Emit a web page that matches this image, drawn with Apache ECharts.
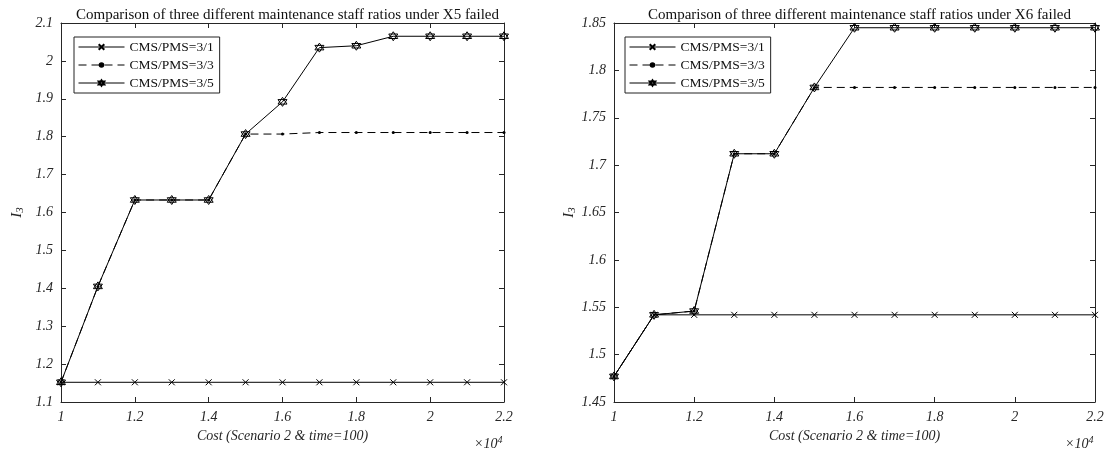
<!DOCTYPE html>
<html>
<head>
<meta charset="utf-8">
<script src="https://cdn.jsdelivr.net/npm/echarts@6/dist/echarts.min.js"></script>
<style>
  html, body { margin: 0; padding: 0; background: #fff; }
  #chart { width: 1107px; height: 454px; }
</style>
</head>
<body>
<div id="chart"></div>
<script>
// Cost values (×10^4)
const costs = [1.0, 1.1, 1.2, 1.3, 1.4, 1.5, 1.6, 1.7, 1.8, 1.9, 2.0, 2.1, 2.2];

const seriesNames = ['CMS/PMS=3/1', 'CMS/PMS=3/3', 'CMS/PMS=3/5'];

// I3 under X5 failed
const x5Ratio31 = [1.152, 1.152, 1.152, 1.152, 1.152, 1.152, 1.152, 1.152, 1.152, 1.152, 1.152, 1.152, 1.152];
const x5Ratio33 = [1.152, 1.405, 1.633, 1.633, 1.633, 1.807, 1.807, 1.811, 1.811, 1.811, 1.811, 1.811, 1.811];
const x5Ratio35 = [1.152, 1.405, 1.633, 1.633, 1.633, 1.807, 1.892, 2.035, 2.040, 2.065, 2.065, 2.065, 2.065];

// I3 under X6 failed
const x6Ratio31 = [1.477, 1.542, 1.542, 1.542, 1.542, 1.542, 1.542, 1.542, 1.542, 1.542, 1.542, 1.542, 1.542];
const x6Ratio33 = [1.477, 1.542, 1.546, 1.712, 1.712, 1.782, 1.782, 1.782, 1.782, 1.782, 1.782, 1.782, 1.782];
const x6Ratio35 = [1.477, 1.542, 1.546, 1.712, 1.712, 1.782, 1.845, 1.845, 1.845, 1.845, 1.845, 1.845, 1.845];

const titles = [
  'Comparison of three different maintenance staff ratios under X5 failed',
  'Comparison of three different maintenance staff ratios under X6 failed'
];
const xAxisTitle = 'Cost (Scenario 2 & time=100)';

const FONT = '"Liberation Serif", "DejaVu Serif", serif';
const AXIS_COLOR = '#262626';
const TEXT_COLOR = '#262626';

const SYM_CROSS = 'path://M-1,-1 L1,1 M1,-1 L-1,1';
const SYM_HEX = 'path://M0,-1 L0.866,0.5 L-0.866,0.5 Z M0,1 L0.866,-0.5 L-0.866,-0.5 Z';

function pairs(ys) { return costs.map((c, i) => [c, ys[i]]); }
function trimNum(v, d) { return String(parseFloat(v.toFixed(d))); }

const TOP = 23, BOTTOM = 52;
const panels = [
  { left: 61, right: 603, ymin: 1.1, ymax: 2.1, step: 0.1, dec: 1, legendLeft: 74, data: [x5Ratio31, x5Ratio33, x5Ratio35] },
  { left: 614, right: 12, ymin: 1.45, ymax: 1.85, step: 0.05, dec: 2, legendLeft: 625, data: [x6Ratio31, x6Ratio33, x6Ratio35] }
];

const grid = [], xAxis = [], yAxis = [], series = [], title = [], legend = [], graphic = [];

panels.forEach((p, k) => {
  grid.push({ left: p.left, right: p.right, top: TOP, bottom: BOTTOM, containLabel: false });
  const tickStyle = { show: true, inside: true, length: 5, lineStyle: { color: AXIS_COLOR } };
  const lineStyle = { show: true, lineStyle: { color: AXIS_COLOR, width: 1 } };
  // bottom and top x axes (box)
  xAxis.push({
    type: 'value', gridIndex: k, min: 1, max: 2.2, interval: 0.2, position: 'bottom',
    axisLine: lineStyle, axisTick: tickStyle, splitLine: { show: false },
    axisLabel: { fontFamily: FONT, fontStyle: 'italic', fontSize: 14, color: TEXT_COLOR, margin: 8,
      formatter: v => trimNum(v, 1) },
    name: xAxisTitle, nameLocation: 'middle', nameGap: 26,
    nameTextStyle: { fontFamily: FONT, fontStyle: 'italic', fontSize: 14, color: TEXT_COLOR }
  });
  xAxis.push({
    type: 'value', gridIndex: k, min: 1, max: 2.2, interval: 0.2, position: 'top',
    axisLine: lineStyle, axisTick: tickStyle, axisLabel: { show: false }, splitLine: { show: false }
  });
  // left and right y axes (box)
  yAxis.push({
    type: 'value', gridIndex: k, min: p.ymin, max: p.ymax, interval: p.step, position: 'left',
    axisLine: lineStyle, axisTick: tickStyle, splitLine: { show: false },
    axisLabel: { fontFamily: FONT, fontStyle: 'italic', fontSize: 14, color: TEXT_COLOR, margin: 8,
      formatter: v => trimNum(v, p.dec) },
    name: '{i|I}{s|3}', nameLocation: 'middle', nameGap: 35, nameRotate: 90,
    nameTextStyle: {
      rich: {
        i: { fontFamily: FONT, fontStyle: 'italic', fontSize: 15, color: TEXT_COLOR },
        s: { fontFamily: FONT, fontStyle: 'italic', fontSize: 11, color: TEXT_COLOR, verticalAlign: 'bottom', padding: [7, 0, 0, 0] }
      }
    }
  });
  yAxis.push({
    type: 'value', gridIndex: k, min: p.ymin, max: p.ymax, interval: p.step, position: 'right',
    axisLine: lineStyle, axisTick: tickStyle, axisLabel: { show: false }, splitLine: { show: false }
  });

  const xi = k * 2, yi = k * 2;
  series.push({
    name: seriesNames[0], type: 'line', xAxisIndex: xi, yAxisIndex: yi, data: pairs(p.data[0]),
    symbol: SYM_CROSS, symbolSize: 6, showAllSymbol: true, animation: false,
    lineStyle: { color: '#000', width: 1 },
    itemStyle: { color: '#000', borderColor: '#000', borderWidth: 1 }
  });
  series.push({
    name: seriesNames[1], type: 'line', xAxisIndex: xi, yAxisIndex: yi, data: pairs(p.data[1]),
    symbol: 'circle', symbolSize: 3, showAllSymbol: true, animation: false,
    lineStyle: { color: '#000', width: 1, type: [8, 5] },
    itemStyle: { color: '#000', borderWidth: 0 }
  });
  series.push({
    name: seriesNames[2], type: 'line', xAxisIndex: xi, yAxisIndex: yi, data: pairs(p.data[2]),
    symbol: SYM_HEX, symbolSize: 9, showAllSymbol: true, animation: false,
    lineStyle: { color: '#000', width: 1 },
    itemStyle: { color: 'rgba(255,255,255,0)', borderColor: '#000', borderWidth: 1 }
  });

  const plotLeft = p.left;
  const plotRight = 1107 - p.right;
  const center = (plotLeft + plotRight) / 2;
  title.push({
    text: titles[k], left: center, top: 3, textAlign: 'center',
    textStyle: { fontFamily: FONT, fontWeight: 'normal', fontSize: 15, color: '#111' }
  });
  legend.push({
    left: p.legendLeft, top: 37, orient: 'vertical',
    data: seriesNames, itemWidth: 46, itemHeight: 7, itemGap: 4,
    padding: [3, 6, 3, 4], borderColor: '#222', borderWidth: 1, backgroundColor: '#fff',
    selectedMode: false,
    lineStyle: { width: 1 },
    textStyle: { fontFamily: FONT, fontSize: 13.5, color: '#111' }
  });
  graphic.push({
    type: 'text', left: plotRight - 30, top: 435,
    style: {
      text: '×10{s|4}', fill: TEXT_COLOR,
      font: 'italic 14px ' + FONT,
      rich: { s: { fontFamily: FONT, fontStyle: 'italic', fontSize: 10, verticalAlign: 'top', padding: [0, 0, 8, 0] } }
    }
  });
});

const chart = echarts.init(document.getElementById('chart'), null, { renderer: 'canvas' });
chart.setOption({
  backgroundColor: '#fff',
  animation: false,
  title, legend, grid, xAxis, yAxis, series, graphic
});
</script>
</body>
</html>
